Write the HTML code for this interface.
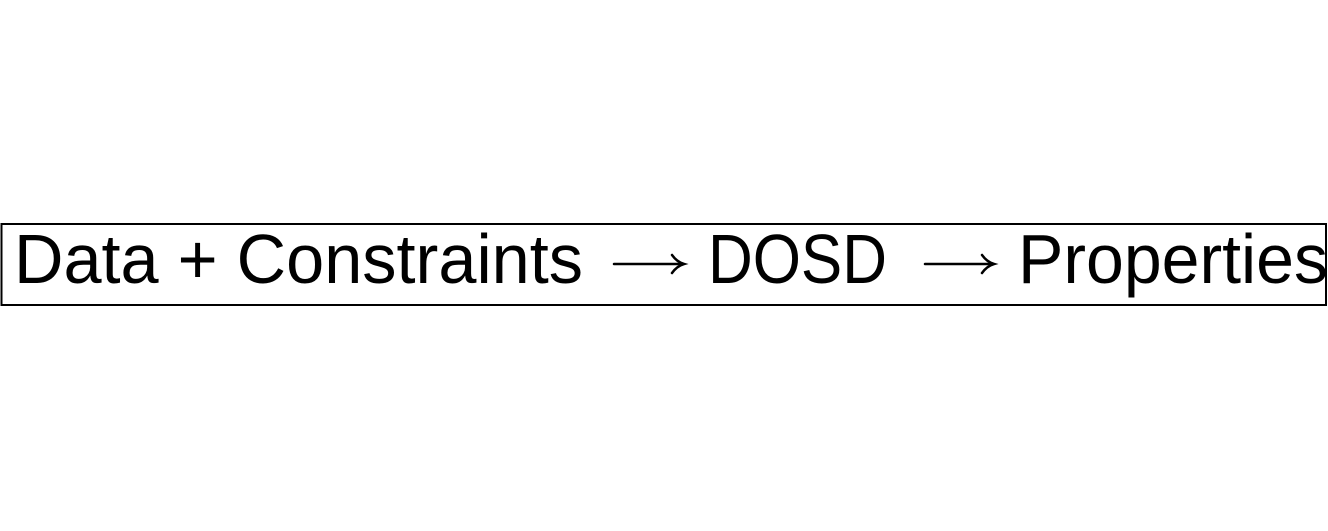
<!DOCTYPE html>
<html><head><meta charset="utf-8"><style>
html,body{margin:0;padding:0;background:#fff;width:1328px;height:531px;overflow:hidden}
</style></head><body>
<svg width="1328" height="531" viewBox="0 0 1328 531" xmlns="http://www.w3.org/2000/svg">
<rect x="1.5" y="224" width="1324.5" height="81" fill="none" stroke="#000" stroke-width="2"/>
<g font-family="Liberation Sans, sans-serif" font-size="70" fill="#000">
<text x="14" y="283" textLength="569" lengthAdjust="spacingAndGlyphs">Data + Constraints</text>
<text x="708" y="283" textLength="179" lengthAdjust="spacingAndGlyphs">DOSD</text>
<text x="1018" y="283" textLength="310" lengthAdjust="spacingAndGlyphs">Properties</text>
</g>
<g stroke="#000" stroke-width="2.5" fill="none" stroke-linecap="round">
<line x1="614" y1="264" x2="683" y2="264"/>
<path d="M672 255 Q677 262 684 264 Q677 266 672 273"/>
<line x1="925" y1="264" x2="993" y2="264"/>
<path d="M982 255 Q987 262 994 264 Q987 266 982 273"/>
</g>
</svg>
</body></html>
